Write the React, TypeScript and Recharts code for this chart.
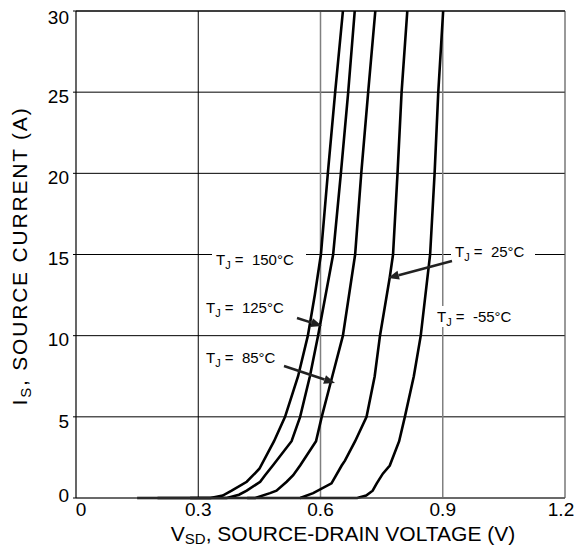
import React from "react";
import { LineChart, Line, XAxis, YAxis, CartesianGrid, ReferenceLine } from "recharts";

// V_SD (V) / I_S (A), one pair of arrays per junction temperature
const v150 = [0.15, 0.33, 0.36, 0.382, 0.419, 0.45, 0.486, 0.513, 0.545, 0.569, 0.586, 0.601, 0.618, 0.636, 0.655];
const i150 = [0, 0, 0.15, 0.45, 1.0, 1.8, 3.5, 5, 7.5, 10, 12.5, 15, 20, 25, 30];

const v125 = [0.2, 0.37, 0.4, 0.419, 0.452, 0.464, 0.483, 0.529, 0.55, 0.574, 0.594, 0.631, 0.65, 0.668, 0.684];
const i125 = [0, 0, 0.2, 0.45, 1.0, 1.4, 2, 3.5, 5, 7.5, 10, 15, 20, 25, 30];

const v85 = [0.28, 0.44, 0.476, 0.492, 0.517, 0.533, 0.55, 0.589, 0.603, 0.629, 0.655, 0.685, 0.7, 0.717, 0.7345];
const i85 = [0, 0, 0.3, 0.45, 1.0, 1.4, 2, 3.5, 5, 7.5, 10, 15, 20, 25, 30];

const v25 = [0.42, 0.55, 0.582, 0.627, 0.652, 0.66, 0.685, 0.713, 0.733, 0.746, 0.77, 0.778, 0.789, 0.799, 0.813];
const i25 = [0, 0, 0.3, 0.9, 2, 2.3, 3.5, 5, 7.5, 10, 13.6, 15, 20, 25, 30];

const vm55 = [0.55, 0.69, 0.712, 0.728, 0.738, 0.753, 0.77, 0.793, 0.807, 0.829, 0.846, 0.869, 0.88, 0.889, 0.901];
const im55 = [0, 0, 0.15, 0.45, 0.9, 1.5, 2, 3.5, 5, 7.5, 10, 15, 20, 25, 30];

const xTicks = [0, 0.3, 0.6, 0.9, 1.2];
const yTicks = [0, 5, 10, 15, 20, 25, 30];

const toPoints = (v: number[], i: number[]) => v.map((x, k) => ({ v: x, i: i[k] }));

const curves = [
  { key: "150", data: toPoints(v150, i150) },
  { key: "125", data: toPoints(v125, i125) },
  { key: "85", data: toPoints(v85, i85) },
  { key: "25", data: toPoints(v25, i25) },
  { key: "-55", data: toPoints(vm55, im55) },
];

const FONT = "'Liberation Sans', Arial, Helvetica, sans-serif";

const XTick = (props: any) => {
  const { x, y, payload } = props;
  const val = payload.value;
  const dx = val === 0 ? 5 : val === 1.2 ? -4 : 0;
  return (
    <text x={x + dx} y={y} dy="0.71em" textAnchor="middle" fontSize={19} fontFamily={FONT} fill="#000">
      {val === 0 ? "0" : val.toFixed(1)}
    </text>
  );
};

const YTick = (props: any) => {
  const { x, y, payload } = props;
  const val = payload.value;
  const dy = val === 0 ? -3 : val === 30 ? 6 : 4;
  return (
    <text x={x} y={y + dy} dy="0.355em" textAnchor="end" fontSize={19} fontFamily={FONT} fill="#000">
      {val}
    </text>
  );
};

function Arrow({ x1, y1, x2, y2 }: { x1: number; y1: number; x2: number; y2: number }) {
  const a = Math.atan2(y2 - y1, x2 - x1);
  const len = 11;
  const w = 4.5;
  const bx = x2 - len * Math.cos(a);
  const by = y2 - len * Math.sin(a);
  const p1 = `${bx + w * Math.sin(a)},${by - w * Math.cos(a)}`;
  const p2 = `${bx - w * Math.sin(a)},${by + w * Math.cos(a)}`;
  return (
    <g>
      <line x1={x1} y1={y1} x2={bx} y2={by} stroke="#222" strokeWidth={2.5} />
      <polygon points={`${x2},${y2} ${p1} ${p2}`} fill="#222" />
    </g>
  );
}

function TLabel({ x, y, temp, bg }: { x: number; y: number; temp: string; bg?: [number, number] }) {
  return (
    <g>
      {bg && <rect x={bg[0]} y={y - 11} width={bg[1] - bg[0]} height={21} fill="#fff" />}
      <text x={x} y={y} dy="0.355em" fontSize={15} fontFamily={FONT} fill="#000">
        T
        <tspan fontSize={11} dy={4}>J</tspan>
        <tspan dy={-4}>{"\u00A0=\u00A0\u00A0" + temp + "\u00B0C"}</tspan>
      </text>
    </g>
  );
}

export default function App() {
  return (
    <div style={{ position: "absolute", left: 0, top: 0, width: 577, height: 550, background: "#fff" }}>
      <LineChart width={577} height={550} margin={{ top: 11, right: 12, bottom: 0, left: 0 }}>
        <CartesianGrid horizontal={true} vertical={false} stroke="#000" strokeWidth={1} />
        <XAxis
          type="number"
          dataKey="v"
          domain={[0, 1.2]}
          ticks={xTicks}
          height={52}
          tick={<XTick />}
          tickSize={3}
          tickMargin={2}
          tickLine={false}
          axisLine={{ stroke: "#555", strokeWidth: 1.2 }}
          allowDuplicatedCategory={false}
        />
        <YAxis
          type="number"
          dataKey="i"
          domain={[0, 30]}
          ticks={yTicks}
          width={76}
          tick={<YTick />}
          tickSize={3}
          tickMargin={4}
          tickLine={{ stroke: "#000" }}
          axisLine={{ stroke: "#000", strokeWidth: 1.2 }}
        />
        <ReferenceLine x={0.3} stroke="#000" strokeWidth={1} />
        <ReferenceLine x={0.6} stroke="#808080" strokeWidth={1.5} />
        <ReferenceLine x={0.9} stroke="#808080" strokeWidth={1.5} />
        <ReferenceLine x={1.2} stroke="#555" strokeWidth={1.2} />
        <ReferenceLine y={30} stroke="#000" strokeWidth={1.2} />
        {curves.map((c) => (
          <Line
            key={c.key}
            data={c.data}
            dataKey="i"
            type="linear"
            stroke="#000"
            strokeWidth={2.6}
            dot={false}
            isAnimationActive={false}
          />
        ))}
      </LineChart>
      <svg width={577} height={550} style={{ position: "absolute", left: 0, top: 0, pointerEvents: "none" }}>
        <TLabel x={216} y={260} temp="150" bg={[212, 306]} />
        <TLabel x={206} y={308} temp="125" />
        <TLabel x={206} y={358} temp="85" />
        <TLabel x={455} y={252} temp="25" bg={[451, 535]} />
        <TLabel x={437} y={317} temp="-55" bg={[434, 518]} />
        <Arrow x1={297} y1={318} x2={322} y2={326} />
        <Arrow x1={284} y1={366} x2={335} y2={383} />
        <Arrow x1={452} y1={261} x2={388} y2={278} />
        <text x={343} y={541} textAnchor="middle" fontSize={21} fontFamily={FONT} fill="#000">
          V<tspan fontSize={15} dy={3}>SD</tspan>
          <tspan dy={-3}>, SOURCE-DRAIN VOLTAGE (V)</tspan>
        </text>
        <text
          transform="translate(27,256) rotate(-90)"
          textAnchor="middle"
          fontSize={21}
          letterSpacing={1.8}
          fontFamily={FONT}
          fill="#000"
        >
          I<tspan fontSize={15} dy={4}>S</tspan>
          <tspan dy={-4}>, SOURCE CURRENT (A)</tspan>
        </text>
      </svg>
    </div>
  );
}
